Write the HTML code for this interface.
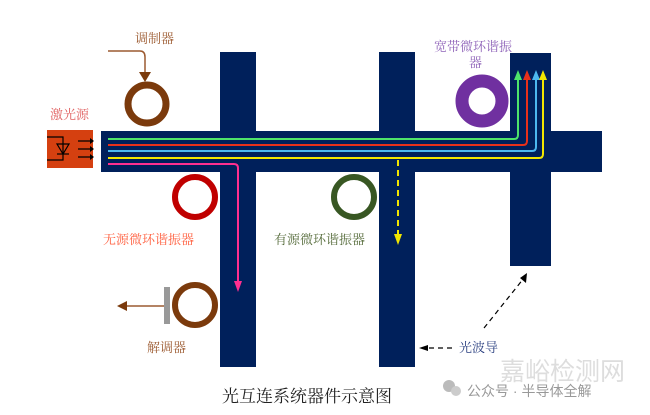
<!DOCTYPE html>
<html><head><meta charset="utf-8"><style>
html,body{margin:0;padding:0;background:#fff;}
svg{display:block;font-family:"Liberation Serif","Noto Serif CJK SC",serif;}
</style></head><body>
<svg width="650" height="415" viewBox="0 0 650 415" xmlns="http://www.w3.org/2000/svg">
<defs>
<marker id="ag" markerWidth="8" markerHeight="10" refX="4" refY="9" orient="auto-start-reverse" markerUnits="userSpaceOnUse"><path d="M0,10 L4,0 L8,10 Z" fill="#4ee36a"/></marker>
</defs>
<g fill="#00205b">
<rect x="101" y="131" width="501" height="41"/>
<rect x="220" y="52" width="36" height="315"/>
<rect x="379" y="52" width="36" height="315"/>
<rect x="510" y="53" width="41" height="213"/>
</g>
<!-- laser -->
<rect x="47" y="130" width="46" height="38" fill="#d54010"/>
<g stroke="#000" stroke-width="1.2" fill="none">
<path d="M47,137 H63 V160 H47"/>
<path d="M57,144 H69 L63,154 Z"/><path d="M57,154 H69"/>
<path d="M78,141 H90 M78,149 H90 M78,157 H90"/>
</g>
<g fill="#000"><path d="M90,138 L94,141 L90,144Z"/><path d="M90,146 L94,149 L90,152Z"/><path d="M90,154 L94,157 L90,160Z"/></g>
<!-- light lines -->
<g fill="none" stroke-width="2">
<path d="M108,139 H514 Q518,139 518,135 V80" stroke="#4ee36a"/>
<path d="M108,145 H523 Q527,145 527,141 V80" stroke="#e8301a"/>
<path d="M108,151 H532 Q536,151 536,147 V80" stroke="#4cb8f0"/>
<path d="M108,158 H539 Q543,158 543,154 V80" stroke="#f2e600"/>
<path d="M108,164 H234 Q238,164 238,168 V282" stroke="#ff2f8f"/>
<path d="M398,160 V236" stroke="#f2e600" stroke-dasharray="6,4"/>
</g>
<path d="M514,80 L518,70 L522,80Z" fill="#4ee36a"/>
<path d="M523,80 L527,70 L531,80Z" fill="#e8301a"/>
<path d="M532,80 L536,70 L540,80Z" fill="#4cb8f0"/>
<path d="M539,80 L543,70 L547,80Z" fill="#f2e600"/>
<path d="M234,281 L238,292 L242,281Z" fill="#ff2f8f"/>
<path d="M394,234 L398,245 L402,234Z" fill="#f2e600"/>
<!-- rings -->
<circle cx="147" cy="104" r="19" fill="none" stroke="#7b3a0c" stroke-width="7"/>
<circle cx="195" cy="197" r="20" fill="none" stroke="#c00000" stroke-width="6"/>
<circle cx="354" cy="197" r="20" fill="none" stroke="#385723" stroke-width="6"/>
<circle cx="482" cy="101" r="20" fill="none" stroke="#7030a0" stroke-width="13"/>
<circle cx="195" cy="305" r="20" fill="none" stroke="#7b3a0c" stroke-width="6"/>
<!-- modulator arrow -->
<path d="M108,51 H140 Q145,51 145,57 V73" fill="none" stroke="#9c5a30" stroke-width="1.5"/>
<path d="M139,72 L145,82 L151,72Z" fill="#7b3a0c"/>
<!-- demod -->
<rect x="164" y="287" width="6" height="37" fill="#999"/>
<path d="M164,306 H125" stroke="#9c5a30" stroke-width="1.5"/>
<path d="M127,301 L117,306 L127,311Z" fill="#7b3a0c"/>
<!-- dashed pointers -->
<path d="M484,328 L524,278" stroke="#000" stroke-width="1.2" stroke-dasharray="5,4"/>
<path d="M527,273 L520,278 L526,283Z" fill="#000"/>
<path d="M452,348 H428" stroke="#000" stroke-width="1.2" stroke-dasharray="5,4"/>
<path d="M428,345 L419,348 L428,351Z" fill="#000"/>
<!-- labels -->
<g font-size="13">
<text x="135" y="43" fill="#9c5a30">调制器</text>
<text x="50" y="119" fill="#e06060">激光源</text>
<text x="434" y="51" fill="#8e62b8">宽带微环谐振</text>
<text x="469" y="67" fill="#8e62b8">器</text>
<text x="103" y="244" fill="#ff6040">无源微环谐振器</text>
<text x="274" y="244" fill="#556b3a">有源微环谐振器</text>
<text x="147" y="352" fill="#9c5a30">解调器</text>
<text x="459" y="352" fill="#2a3f80">光波导</text>
</g>
<text x="222" y="402" font-size="17" fill="#222">光互连系统器件示意图</text>
<!-- watermark -->
<text x="500" y="380" font-size="25" fill="#ddd" font-family="Liberation Sans,Noto Sans CJK SC,sans-serif">嘉峪检测网</text>
<text x="467" y="396" font-size="14" fill="#999" font-family="Liberation Sans,Noto Sans CJK SC,sans-serif">公众号 · 半导体全解</text>
<circle cx="449" cy="386" r="6" fill="#bbb"/><circle cx="456" cy="391" r="5" fill="#ccc"/>
</svg>
</body></html>
